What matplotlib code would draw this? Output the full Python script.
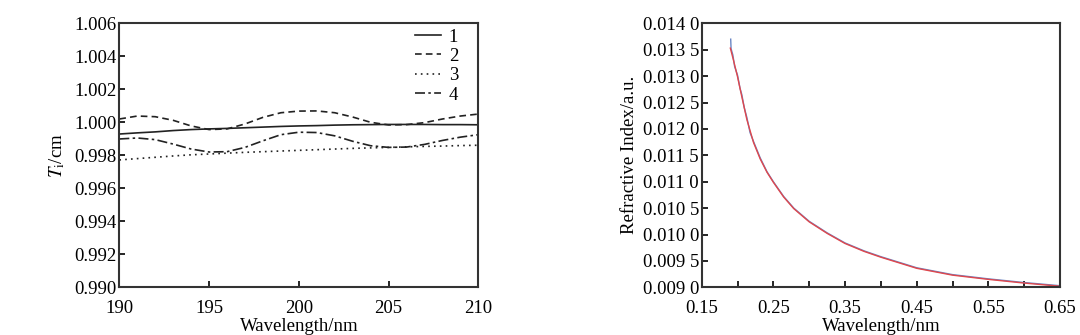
import matplotlib
matplotlib.use('Agg')
import matplotlib.pyplot as plt
import numpy as np

plt.rcParams['font.family'] = ['Liberation Serif', 'DejaVu Serif']
plt.rcParams['mathtext.fontset'] = 'stix'
FS = 13.5

# left panel: T_i vs wavelength
wl = [190, 191, 192, 193, 194, 195, 196, 197, 198, 199, 200,
      201, 202, 203, 204, 205, 206, 207, 208, 209, 210]
t1 = [0.99929, 0.99936, 0.99942, 0.99950, 0.99956, 0.99960, 0.99963, 0.99967, 0.99971, 0.99975, 0.99978,
      0.99980, 0.99983, 0.99985, 0.99986, 0.99987, 0.99987, 0.99987, 0.99986, 0.99986, 0.99985]
t2 = [1.00020, 1.00038, 1.00034, 1.00012, 0.99978, 0.99956, 0.99960, 0.99990, 1.00030, 1.00058, 1.00068,
      1.00069, 1.00058, 1.00032, 1.00000, 0.99984, 0.99986, 0.99998, 1.00020, 1.00038, 1.00050]
t3 = [0.99772, 0.99780, 0.99788, 0.99796, 0.99803, 0.99808, 0.99813, 0.99818, 0.99822, 0.99826, 0.99830,
      0.99834, 0.99838, 0.99842, 0.99845, 0.99848, 0.99851, 0.99854, 0.99856, 0.99859, 0.99861]
t4 = [0.99899, 0.99905, 0.99895, 0.99868, 0.99838, 0.99820, 0.99822, 0.99848, 0.99888, 0.99925, 0.99940,
      0.99938, 0.99918, 0.99885, 0.99858, 0.99848, 0.99850, 0.99866, 0.99890, 0.99910, 0.99925]
series_labels = ['1', '2', '3', '4']
left_yticks = [0.990, 0.992, 0.994, 0.996, 0.998, 1.000, 1.002, 1.004, 1.006]

# right panel: refractive index, measured (blue) and fit (red)
fit_x = [0.190, 0.1944, 0.200, 0.206, 0.213, 0.2224, 0.2317, 0.2411, 0.250, 0.2644, 0.2785,
         0.300, 0.3252, 0.350, 0.3766, 0.400, 0.450, 0.500, 0.550, 0.600, 0.650]
fit_y = [0.01353, 0.01330, 0.01299, 0.01261, 0.01218, 0.01174, 0.01143, 0.01118, 0.01099, 0.01071, 0.01049,
         0.01024, 0.01002, 0.00983, 0.00968, 0.00957, 0.00936, 0.00923, 0.00915, 0.00908, 0.00902]
meas_x = [0.1905, 0.1910, 0.1935, 0.1960, 0.200, 0.2035, 0.206, 0.2095, 0.213, 0.2175, 0.2224, 0.2317,
          0.2411, 0.250, 0.2644, 0.2785, 0.300, 0.3252, 0.350, 0.3766, 0.400, 0.450, 0.500, 0.550, 0.600, 0.650]
meas_y = [0.01370, 0.01352, 0.01340, 0.01318, 0.01302, 0.01277, 0.01265, 0.01240, 0.01222, 0.01193, 0.01176, 0.01145,
          0.01119, 0.01100, 0.01072, 0.01050, 0.01025, 0.01003, 0.00984, 0.00969, 0.00958, 0.00937, 0.00924, 0.00916, 0.00909, 0.00903]
right_xticks = [0.15, 0.20, 0.25, 0.30, 0.35, 0.40, 0.45, 0.50, 0.55, 0.60, 0.65]
right_yticks = [0.0090, 0.0095, 0.0100, 0.0105, 0.0110, 0.0115, 0.0120, 0.0125, 0.0130, 0.0135, 0.0140]

fig = plt.figure(figsize=(10.8, 3.35), dpi=100)
ax1 = fig.add_axes([0.1105, 0.1424, 0.3324, 0.788])
ax2 = fig.add_axes([0.6497, 0.1424, 0.3318, 0.788])

styles = ['-', (0, (4, 2.5)), (0, (1, 2.5)), (0, (6, 2, 1.5, 2))]
for ys, ls, lab in zip([t1, t2, t3, t4], styles, series_labels):
    ax1.plot(wl, ys, color='#222222', linestyle=ls, linewidth=1.2, label=lab)
ax1.set_xlim(190, 210)
ax1.set_ylim(0.990, 1.006)
ax1.set_xticks([190, 195, 200, 205, 210])
ax1.set_yticks(left_yticks)
ax1.set_yticklabels(['%.3f' % v for v in left_yticks])
ax1.set_xlabel('Wavelength/nm', fontsize=FS, labelpad=1)
ax1.set_ylabel('$T_{\\mathrm{i}}$/cm', fontsize=FS, labelpad=5)
ax1.legend(loc='upper right', bbox_to_anchor=(0.98, 1.03), frameon=False, fontsize=FS,
           handlelength=1.4, handletextpad=0.4, labelspacing=0.12, borderaxespad=0.3)

ax2.plot(meas_x, meas_y, color='#6a86c4', linewidth=1.0)
ax2.plot(fit_x, fit_y, color='#e0474c', linewidth=1.0)
ax2.set_xlim(0.15, 0.65)
ax2.set_ylim(0.009, 0.014)
ax2.set_xticks(right_xticks)
ax2.set_xticklabels(['%.2f' % v if i % 2 == 0 else '' for i, v in enumerate(right_xticks)])
ax2.set_yticks(right_yticks)
ax2.set_yticklabels([('%.4f' % v)[:-1] + ' ' + ('%.4f' % v)[-1] for v in right_yticks])
ax2.set_xlabel('Wavelength/nm', fontsize=FS, labelpad=1)
ax2.set_ylabel('Refractive Index/a.u.', fontsize=FS, labelpad=3)

for ax in (ax1, ax2):
    ax.tick_params(direction='in', length=4, width=1.2, labelsize=FS)
    ax.tick_params(axis='y', pad=2)
    ax.tick_params(axis='x', pad=9)
    for sp in ax.spines.values():
        sp.set_linewidth(1.5)
        sp.set_color('#333333')

fig.savefig('out.png', dpi=100)
